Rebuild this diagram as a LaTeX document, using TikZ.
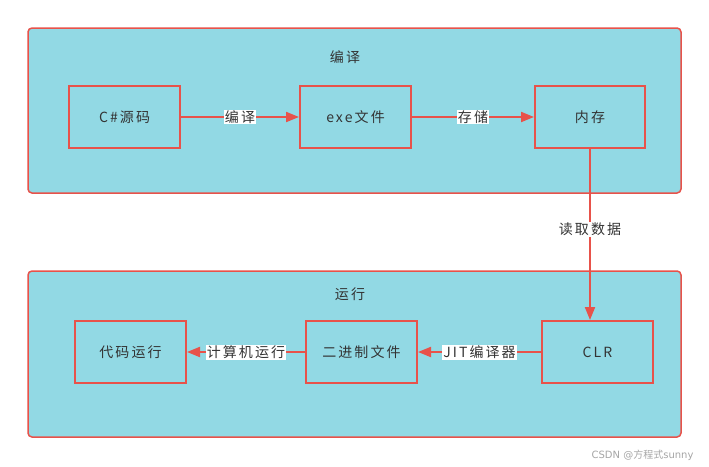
\documentclass[tikz,border=0pt]{standalone}
\usepackage{fontspec}
\setmainfont[LetterSpace=15]{Noto Sans CJK SC}
\newfontfamily\wmfont{DejaVu Sans}
\newfontfamily\wmcjk{Noto Sans CJK SC}
\usetikzlibrary{arrows.meta,calc}
\definecolor{panelfill}{HTML}{92D9E4}
\definecolor{edgered}{HTML}{E8524A}
\definecolor{txt}{HTML}{333333}
\tikzset{
  panel/.style={draw=edgered,line width=1.5pt,fill=panelfill,rounded corners=4pt},
  stepbox/.style={draw=edgered,line width=2pt,minimum width=111pt,minimum height=62pt,inner sep=0pt,text=txt,font=\fontsize{14}{16}\selectfont},
  flow/.style={draw=edgered,line width=2pt,-{Triangle[length=13pt,width=10pt]}},
  lbl/.style={fill=white,inner sep=1pt,text=txt,font=\fontsize{14}{16}\selectfont},
  ttl/.style={text=txt,font=\fontsize{14}{16}\selectfont}
}
\begin{document}
\begin{tikzpicture}[x=1pt,y=-1pt]
\useasboundingbox (0,0) rectangle (709,466);
\fill[white] (0,0) rectangle (709,466);
% panels
\draw[panel] (28,28) rectangle (681,193);
\draw[panel] (28,271) rectangle (681,437);
\node[ttl] (t1) at (345,57) {编译};
\node[ttl] (t2) at (350,294) {运行};
% top row
\node[stepbox] (src) at (124.5,117) {C\#源码};
\node[stepbox] (exe) at (355.5,117) {exe文件};
\node[stepbox,minimum width=110pt] (mem) at (590,117) {内存};
% bottom row
\node[stepbox] (run) at (130.5,352) {代码运行};
\node[stepbox] (bin) at (361.5,352) {二进制文件};
\node[stepbox] (clr) at (597.5,352) {CLR};
% connectors
\draw[flow] (src) -- node[lbl] {编译} (exe);
\draw[flow] (exe) -- node[lbl] {存储} (mem);
\coordinate (clrtop) at (mem.south |- clr.north);
\draw[flow] (mem.south) -- node[lbl,pos=0.47] {读取数据} (clrtop);
\draw[flow] (clr) -- node[lbl] {JIT编译器} (bin);
\draw[flow] (bin) -- node[lbl] {计算机运行} (run);
% watermark
\node[text=black!35,font=\wmfont\fontsize{10}{12}\selectfont,anchor=east] (wm) at (697,455) {CSDN @{\wmcjk 方程式}sunny};
\end{tikzpicture}
\end{document}
